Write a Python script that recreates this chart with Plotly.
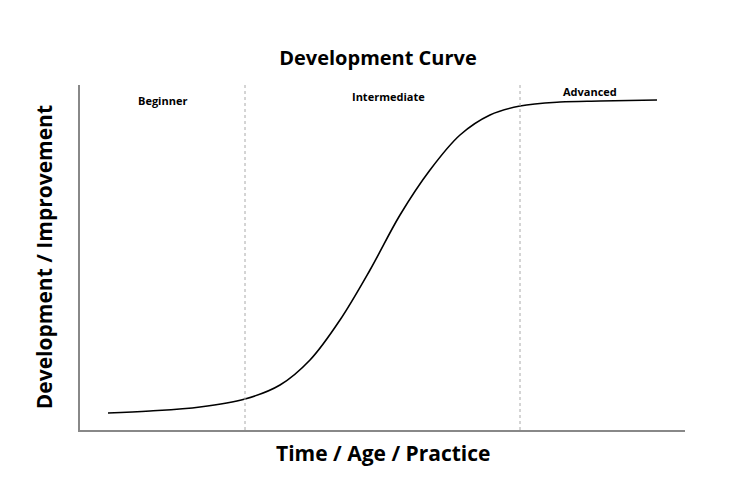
import plotly.graph_objects as go

# curve readings (x: time units, y: development units)
x_vals = [28, 70, 120, 165, 200, 230, 260, 290, 320, 350, 380, 410, 440, 480, 520, 577]
y_vals = [17, 19, 23, 31, 45, 70, 110, 160, 215, 260, 295, 315, 324, 328, 329, 330]
stage_bounds = [165, 440]
stage_names = ["Beginner", "Intermediate", "Advanced"]
stage_label_x = [82, 308, 510]
stage_label_y = [330, 334, 339]

fig = go.Figure()
fig.add_trace(go.Scatter(x=x_vals, y=y_vals, mode="lines", line=dict(color="black", width=1.6, shape="spline"),
                         hoverinfo="skip", showlegend=False))
for b in stage_bounds:
    fig.add_shape(type="line", x0=b, x1=b, y0=0, y1=345, xref="x", yref="y",
                  line=dict(color="#aaaaaa", width=1, dash="dot"))
for n, lx, ly in zip(stage_names, stage_label_x, stage_label_y):
    fig.add_annotation(x=lx, y=ly, text="<b>%s</b>" % n, showarrow=False,
                       font=dict(size=11, color="black", family="Open Sans"))
fig.add_annotation(x=0.5, y=-0.02, xref="paper", yref="paper", yanchor="top",
                   text="<b>Time / Age / Practice</b>", showarrow=False,
                   font=dict(size=21, color="black", family="Open Sans"))
fig.add_annotation(x=-0.06, y=0.5, xref="paper", yref="paper", xanchor="center",
                   text="<b>Development / Improvement</b>", textangle=-90, showarrow=False,
                   font=dict(size=21, color="black", family="Open Sans"))
fig.update_layout(
    width=740, height=502, plot_bgcolor="white", paper_bgcolor="white",
    margin=dict(l=72, r=63, t=77, b=80),
    title=dict(text="<b>Development Curve</b>", x=0.5, y=0.915, xanchor="center",
               font=dict(size=20, color="black", family="Open Sans")),
    xaxis=dict(range=[0, 605], showgrid=False, zeroline=False, showticklabels=False, ticks="",
               showline=True, linecolor="#888888", linewidth=1.5),
    yaxis=dict(range=[0, 345], showgrid=False, zeroline=False, showticklabels=False, ticks="",
               showline=True, linecolor="#888888", linewidth=1.5),
)
fig.write_html("out.html")
